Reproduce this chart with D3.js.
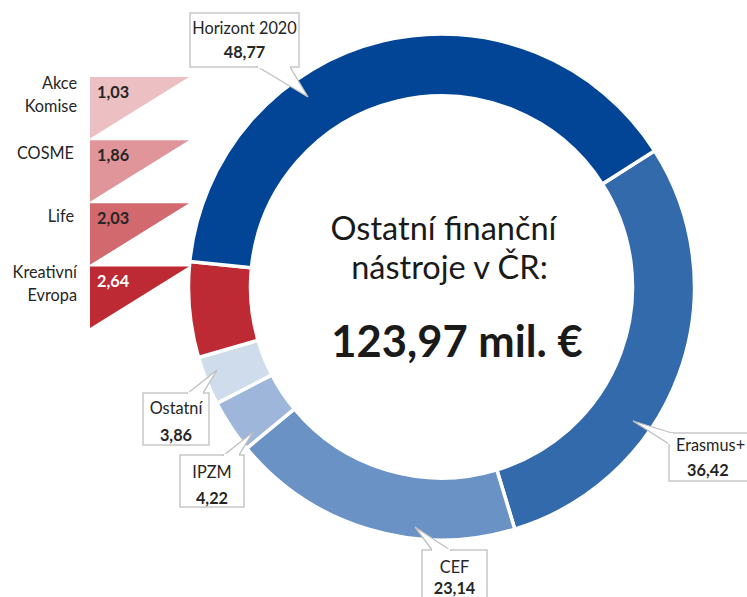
<!DOCTYPE html>
<html><head><meta charset="utf-8">
<script src="https://cdn.jsdelivr.net/npm/d3@7"></script>
<style>html,body{margin:0;padding:0;background:#fff;} svg{display:block;font-family:Lato,"Noto Sans",sans-serif;}</style>
</head><body>
<svg id="c" width="747" height="597"></svg>
<script>
// ---- data ----
const ringCategories = ["Erasmus+", "CEF", "IPZM", "Ostatní", "Horizont 2020"];
const ringValues = [36.42, 23.14, 4.22, 3.86, 48.77];
const redCategories = ["Akce Komise", "COSME", "Life", "Kreativní Evropa"];
const redValues = [1.03, 1.86, 2.03, 2.64];
const titleLines = ["Ostatní finanční", "nástroje v ČR:"];
const unitLabel = "mil. €";

// ---- styles ----
const ringColors = {"Erasmus+":"#336aab","CEF":"#6a92c4","IPZM":"#9db6d9","Ostatní":"#cfdcec","Horizont 2020":"#024596","red":"#be2a34"};
const redColors = ["#ecc0c3","#df9599","#d1696e","#be2a34"];
const txt = "#262626";
const fs = 16.3;

const fmt = v => d3.format(".2f")(v).replace(".", ",");
const svg = d3.select("#c");
const cx = 441.5, cy = 287, rOuter = 253, rInner = 191;
const startDeg = 57.4;

// ring data: Erasmus, CEF, IPZM, Ostatní, red group, Horizont
const redSum = d3.sum(redValues);
const ring = ringCategories.slice(0, 4).map((c, i) => ({key: c, value: ringValues[i]}))
  .concat([{key: "red", value: redSum}, {key: "Horizont 2020", value: ringValues[4]}]);
const total = d3.sum(ring, d => d.value);

const pie = d3.pie().sort(null).value(d => d.value)
  .startAngle(startDeg * Math.PI / 180).endAngle(startDeg * Math.PI / 180 + 2 * Math.PI);
const arc = d3.arc().innerRadius(rInner).outerRadius(rOuter);
const g = svg.append("g").attr("transform", `translate(${cx},${cy})`);
g.selectAll("path").data(pie(ring)).join("path")
  .attr("d", arc).attr("fill", d => ringColors[d.data.key])
  .attr("stroke", "#fff").attr("stroke-width", 3.5);

// center text
svg.append("text").attr("x", 443.5).attr("y", 240).attr("text-anchor", "middle")
  .attr("font-size", 32.5).attr("fill", "#1a1a1a").text(titleLines[0]);
svg.append("text").attr("x", 449.5).attr("y", 279).attr("text-anchor", "middle")
  .attr("font-size", 32.5).attr("fill", "#1a1a1a").text(titleLines[1]);
svg.append("text").attr("x", 457).attr("y", 357).attr("text-anchor", "middle")
  .attr("font-size", 43.5).attr("font-weight", "bold").attr("fill", "#1a1a1a")
  .text(fmt(total) + " " + unitLabel);

// red breakdown triangles
const yBand = d3.scaleBand().domain(redCategories).range([77, 328]).paddingInner(0.025);
const tx0 = 90, tx1 = 189;
const leg = svg.append("g");
redCategories.forEach((c, i) => {
  const y0 = yBand(c), h = yBand.bandwidth();
  leg.append("path").attr("d", `M${tx0},${y0}L${tx1},${y0}L${tx0},${y0 + h}Z`).attr("fill", redColors[i]);
  leg.append("text").attr("x", 97).attr("y", y0 + 21).attr("font-size", fs).attr("font-weight", "bold")
    .attr("fill", i === 3 ? "#fff" : txt).text(fmt(redValues[i]));
  const words = c.split(" ");
  if (words.length > 1) {
    words.forEach((w, j) => leg.append("text").attr("x", 77).attr("y", y0 + 12 + j * 23)
      .attr("text-anchor", "end").attr("font-size", fs).attr("fill", txt).text(w));
  } else {
    leg.append("text").attr("x", 74).attr("y", y0 + 19).attr("text-anchor", "end")
      .attr("font-size", fs).attr("fill", txt).text(c);
  }
});

// callouts (layout)
const callouts = [
  {key: "Horizont 2020", box: [190, 13, 109, 54], tip: [308, 97], base: [[258, 67], [290, 67]], ty: [34, 58]},
  {key: "Erasmus+", box: [669, 433, 90, 48], tip: [633, 421], base: [[672, 433], [669, 444]], ty: [451, 476], left: 676},
  {key: "Ostatní", box: [143, 393, 66, 52], tip: [217, 370], base: [[188, 393], [203, 393]], ty: [414, 441]},
  {key: "IPZM", box: [180, 455, 64, 52], tip: [253, 432], base: [[224, 455], [239, 455]], ty: [478, 504]},
  {key: "CEF", box: [422, 550, 65, 60], tip: [415, 527], base: [[432, 550], [450, 550]], ty: [573, 594]}
];
const cg = svg.append("g");
callouts.forEach(co => {
  const [bx, by, bw, bh] = co.box;
  const v = ringValues[ringCategories.indexOf(co.key)];
  cg.append("rect").attr("x", bx).attr("y", by).attr("width", bw).attr("height", bh)
    .attr("fill", "#fff").attr("stroke", "#bfbfbf").attr("stroke-width", 1.3);
  cg.append("path").attr("d", `M${co.base[0][0]},${co.base[0][1]}L${co.tip[0]},${co.tip[1]}L${co.base[1][0]},${co.base[1][1]}Z`)
    .attr("fill", "#fff").attr("stroke", "#bfbfbf").attr("stroke-width", 1.3);
  cg.append("path").attr("d", `M${co.base[0][0]},${co.base[0][1]}L${co.base[1][0]},${co.base[1][1]}`)
    .attr("stroke", "#fff").attr("stroke-width", 2.5);
  const mid = co.left != null ? null : bx + bw / 2;
  cg.append("text").attr("x", mid != null ? mid : co.left).attr("y", co.ty[0])
    .attr("text-anchor", mid != null ? "middle" : "start").attr("font-size", fs).attr("fill", txt).text(co.key);
  cg.append("text").attr("x", mid != null ? mid : co.left + 11).attr("y", co.ty[1])
    .attr("text-anchor", mid != null ? "middle" : "start").attr("font-size", fs).attr("font-weight", "bold")
    .attr("fill", txt).text(fmt(v));
});
</script>
</body></html>
